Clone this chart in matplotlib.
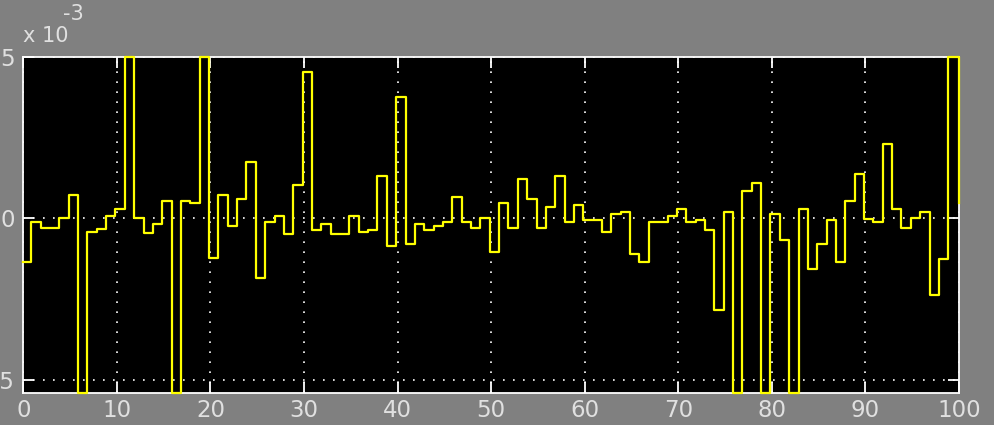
import matplotlib
matplotlib.use('Agg')
import matplotlib.pyplot as plt
import numpy as np

# scope trace, values in units of 1e-3 (saturated samples sit on the axes limits)
vals = [-1.34, -0.12, -0.31, -0.31, 0.00, 0.72, -5.41, -0.43, -0.33, 0.07,
        0.29, 5.00, 0.00, -0.47, -0.18, 0.54, -5.41, 0.54, 0.46, 5.00,
        -1.22, 0.72, -0.24, 0.60, 1.73, -1.84, -0.12, 0.07, -0.49, 1.03,
        4.52, -0.37, -0.18, -0.49, -0.49, 0.07, -0.43, -0.37, 1.32, -0.85,
        3.74, -0.78, -0.18, -0.37, -0.24, -0.12, 0.66, -0.12, -0.31, 0.00,
        -1.03, 0.46, -0.31, 1.20, 0.60, -0.31, 0.36, 1.32, -0.12, 0.41,
        -0.06, -0.06, -0.43, 0.12, 0.19, -1.09, -1.34, -0.12, -0.12, 0.07,
        0.29, -0.12, -0.06, -0.37, -2.85, 0.19, -5.41, 0.85, 1.09, -5.41,
        0.12, -0.68, -5.41, 0.29, -1.58, -0.78, -0.06, -1.34, 0.54, 1.38,
        -0.02, -0.12, 2.29, 0.29, -0.31, 0.00, 0.19, -2.37, -1.27, 5.00,
        0.46]
# sample hits (the scope shows them slightly ahead of the integer grid)
t = np.r_[0, np.arange(1, 100) - 0.15, 100]

xticks = [0, 10, 20, 30, 40, 50, 60, 70, 80, 90, 100]
yticks = [-5, 0, 5]
ylabels = ['-5', '0', '5']

plt.rcParams['font.family'] = ['Liberation Sans Narrow', 'DejaVu Sans']
txt = '#e0e0e0'

fig = plt.figure(figsize=(9.94, 4.25), dpi=100, facecolor='#808080')
ax = fig.add_axes([0.0234, 0.0746, 0.9414, 0.7924], facecolor='black')

ax.step(t, vals, where='post', color='#ffff00', lw=1.6, clip_on=False, zorder=3)

ax.set_xlim(0, 100)
ax.set_ylim(-5.41, 5.0)
ax.set_xticks(xticks)
ax.set_xticklabels([str(x) for x in xticks])
ax.set_yticks(yticks)
ax.set_yticklabels(ylabels)

ax.grid(True, color='white', linestyle=(0, (1, 5)), lw=1.2)
for s in ax.spines.values():
    s.set_color('white')
    s.set_linewidth(1.3)

ax.tick_params(axis='both', direction='in', length=8, width=1.3, color='white',
               labelcolor=txt, labelsize=16.5, top=True, right=True)
ax.tick_params(axis='x', pad=4)
ax.tick_params(axis='y', pad=6)

fig.text(23 / 994, 1 - 42 / 425, 'x 10', color=txt, fontsize=15,
         ha='left', va='baseline')
fig.text(63 / 994, 1 - 20 / 425, '-3', color=txt, fontsize=15,
         ha='left', va='baseline')

plt.savefig('out.png', dpi=100, facecolor=fig.get_facecolor())
